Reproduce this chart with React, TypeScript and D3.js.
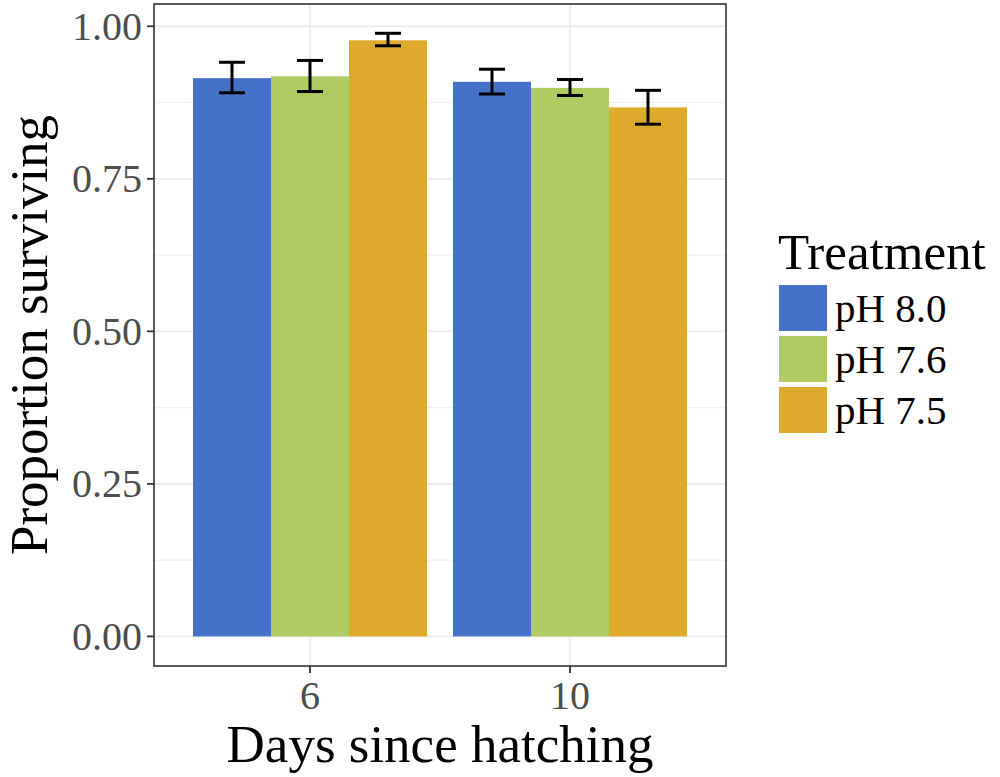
import React from "react";
import * as d3 from "d3";

const days = ["6", "10"];
const treatments = ["pH 8.0", "pH 7.6", "pH 7.5"];
const colors = ["#4472C8", "#B0CB62", "#DEAA2C"];
// proportion surviving per treatment, per day
const meanDay6 = [0.915, 0.918, 0.977];
const meanDay10 = [0.909, 0.899, 0.867];
const lowDay6 = [0.891, 0.893, 0.968];
const highDay6 = [0.941, 0.944, 0.9885];
const lowDay10 = [0.889, 0.8865, 0.8395];
const highDay10 = [0.9296, 0.9127, 0.895];
const yTicks = [0, 0.25, 0.5, 0.75, 1.0];
const yMinor = [0.125, 0.375, 0.625, 0.875];

const means = [meanDay6, meanDay10];
const lows = [lowDay6, lowDay10];
const highs = [highDay6, highDay10];

const W = 1000;
const H = 777;
const panel = { left: 154, right: 726, top: 4, bottom: 666 };
const FONT = "'Liberation Serif', 'Times New Roman', Times, serif";

export default function App() {
  const x = d3.scalePoint<string>().domain(days).range([panel.left, panel.right]).padding(0.6);
  const step = x.step();
  const y = d3.scaleLinear().domain([-0.0485, 1.0365]).range([panel.bottom, panel.top]);
  const barW = step * 0.3;
  const errW = step * 0.1;

  return (
    <svg
      width={W}
      height={H}
      style={{ position: "absolute", left: 0, top: 0, display: "block", background: "#fff" }}
      fontFamily={FONT}
    >
      <rect x={0} y={0} width={W} height={H} fill="#fff" />
      {/* grid */}
      {yMinor.map((v) => (
        <line key={"mn" + v} x1={panel.left} x2={panel.right} y1={y(v)} y2={y(v)} stroke="#EBEBEB" strokeWidth={0.9} />
      ))}
      {yTicks.map((v) => (
        <line key={"mj" + v} x1={panel.left} x2={panel.right} y1={y(v)} y2={y(v)} stroke="#EBEBEB" strokeWidth={1.8} />
      ))}
      {days.map((d) => (
        <line key={"vx" + d} x1={x(d)} x2={x(d)} y1={panel.top} y2={panel.bottom} stroke="#EBEBEB" strokeWidth={1.8} />
      ))}
      {/* bars */}
      {days.map((d, di) =>
        treatments.map((t, ti) => {
          const cx = (x(d) as number) + (ti - 1) * barW;
          return (
            <rect
              key={d + t}
              x={cx - barW / 2}
              y={y(means[di][ti])}
              width={barW}
              height={y(0) - y(means[di][ti])}
              fill={colors[ti]}
            />
          );
        })
      )}
      {/* error bars */}
      {days.map((d, di) =>
        treatments.map((t, ti) => {
          const cx = (x(d) as number) + (ti - 1) * barW;
          const yl = y(lows[di][ti]);
          const yh = y(highs[di][ti]);
          return (
            <g key={"e" + d + t} stroke="#000" strokeWidth={3} fill="none">
              <line x1={cx} x2={cx} y1={yl} y2={yh} />
              <line x1={cx - errW / 2} x2={cx + errW / 2} y1={yl} y2={yl} />
              <line x1={cx - errW / 2} x2={cx + errW / 2} y1={yh} y2={yh} />
            </g>
          );
        })
      )}
      {/* panel border */}
      <rect
        x={panel.left}
        y={panel.top}
        width={panel.right - panel.left}
        height={panel.bottom - panel.top}
        fill="none"
        stroke="#333333"
        strokeWidth={1.6}
      />
      {/* y axis ticks */}
      {yTicks.map((v) => (
        <g key={"yt" + v}>
          <line x1={panel.left - 7} x2={panel.left} y1={y(v)} y2={y(v)} stroke="#333333" strokeWidth={1.8} />
          <text x={panel.left - 12} y={y(v)} dy="0.34em" textAnchor="end" fontSize={40} fill="#4D4D4D">
            {d3.format(".2f")(v)}
          </text>
        </g>
      ))}
      {/* x axis ticks */}
      {days.map((d) => (
        <g key={"xt" + d}>
          <line x1={x(d)} x2={x(d)} y1={panel.bottom} y2={panel.bottom + 7} stroke="#333333" strokeWidth={1.8} />
          <text x={x(d)} y={709} textAnchor="middle" fontSize={40} fill="#4D4D4D">
            {d}
          </text>
        </g>
      ))}
      {/* axis titles */}
      <text x={(panel.left + panel.right) / 2} y={762} textAnchor="middle" fontSize={53} fill="#000">
        Days since hatching
      </text>
      <text
        transform={`translate(47, ${(panel.top + panel.bottom) / 2}) rotate(-90)`}
        textAnchor="middle"
        fontSize={53}
        fill="#000"
      >
        Proportion surviving
      </text>
      {/* legend */}
      <text x={778} y={269} fontSize={51} fill="#000">
        Treatment
      </text>
      {treatments.map((t, i) => (
        <g key={"lg" + t}>
          <rect x={779} y={285 + i * 51} width={48} height={46} fill={colors[i]} />
          <text x={835} y={322 + i * 51} fontSize={41} fill="#000">
            {t}
          </text>
        </g>
      ))}
    </svg>
  );
}
